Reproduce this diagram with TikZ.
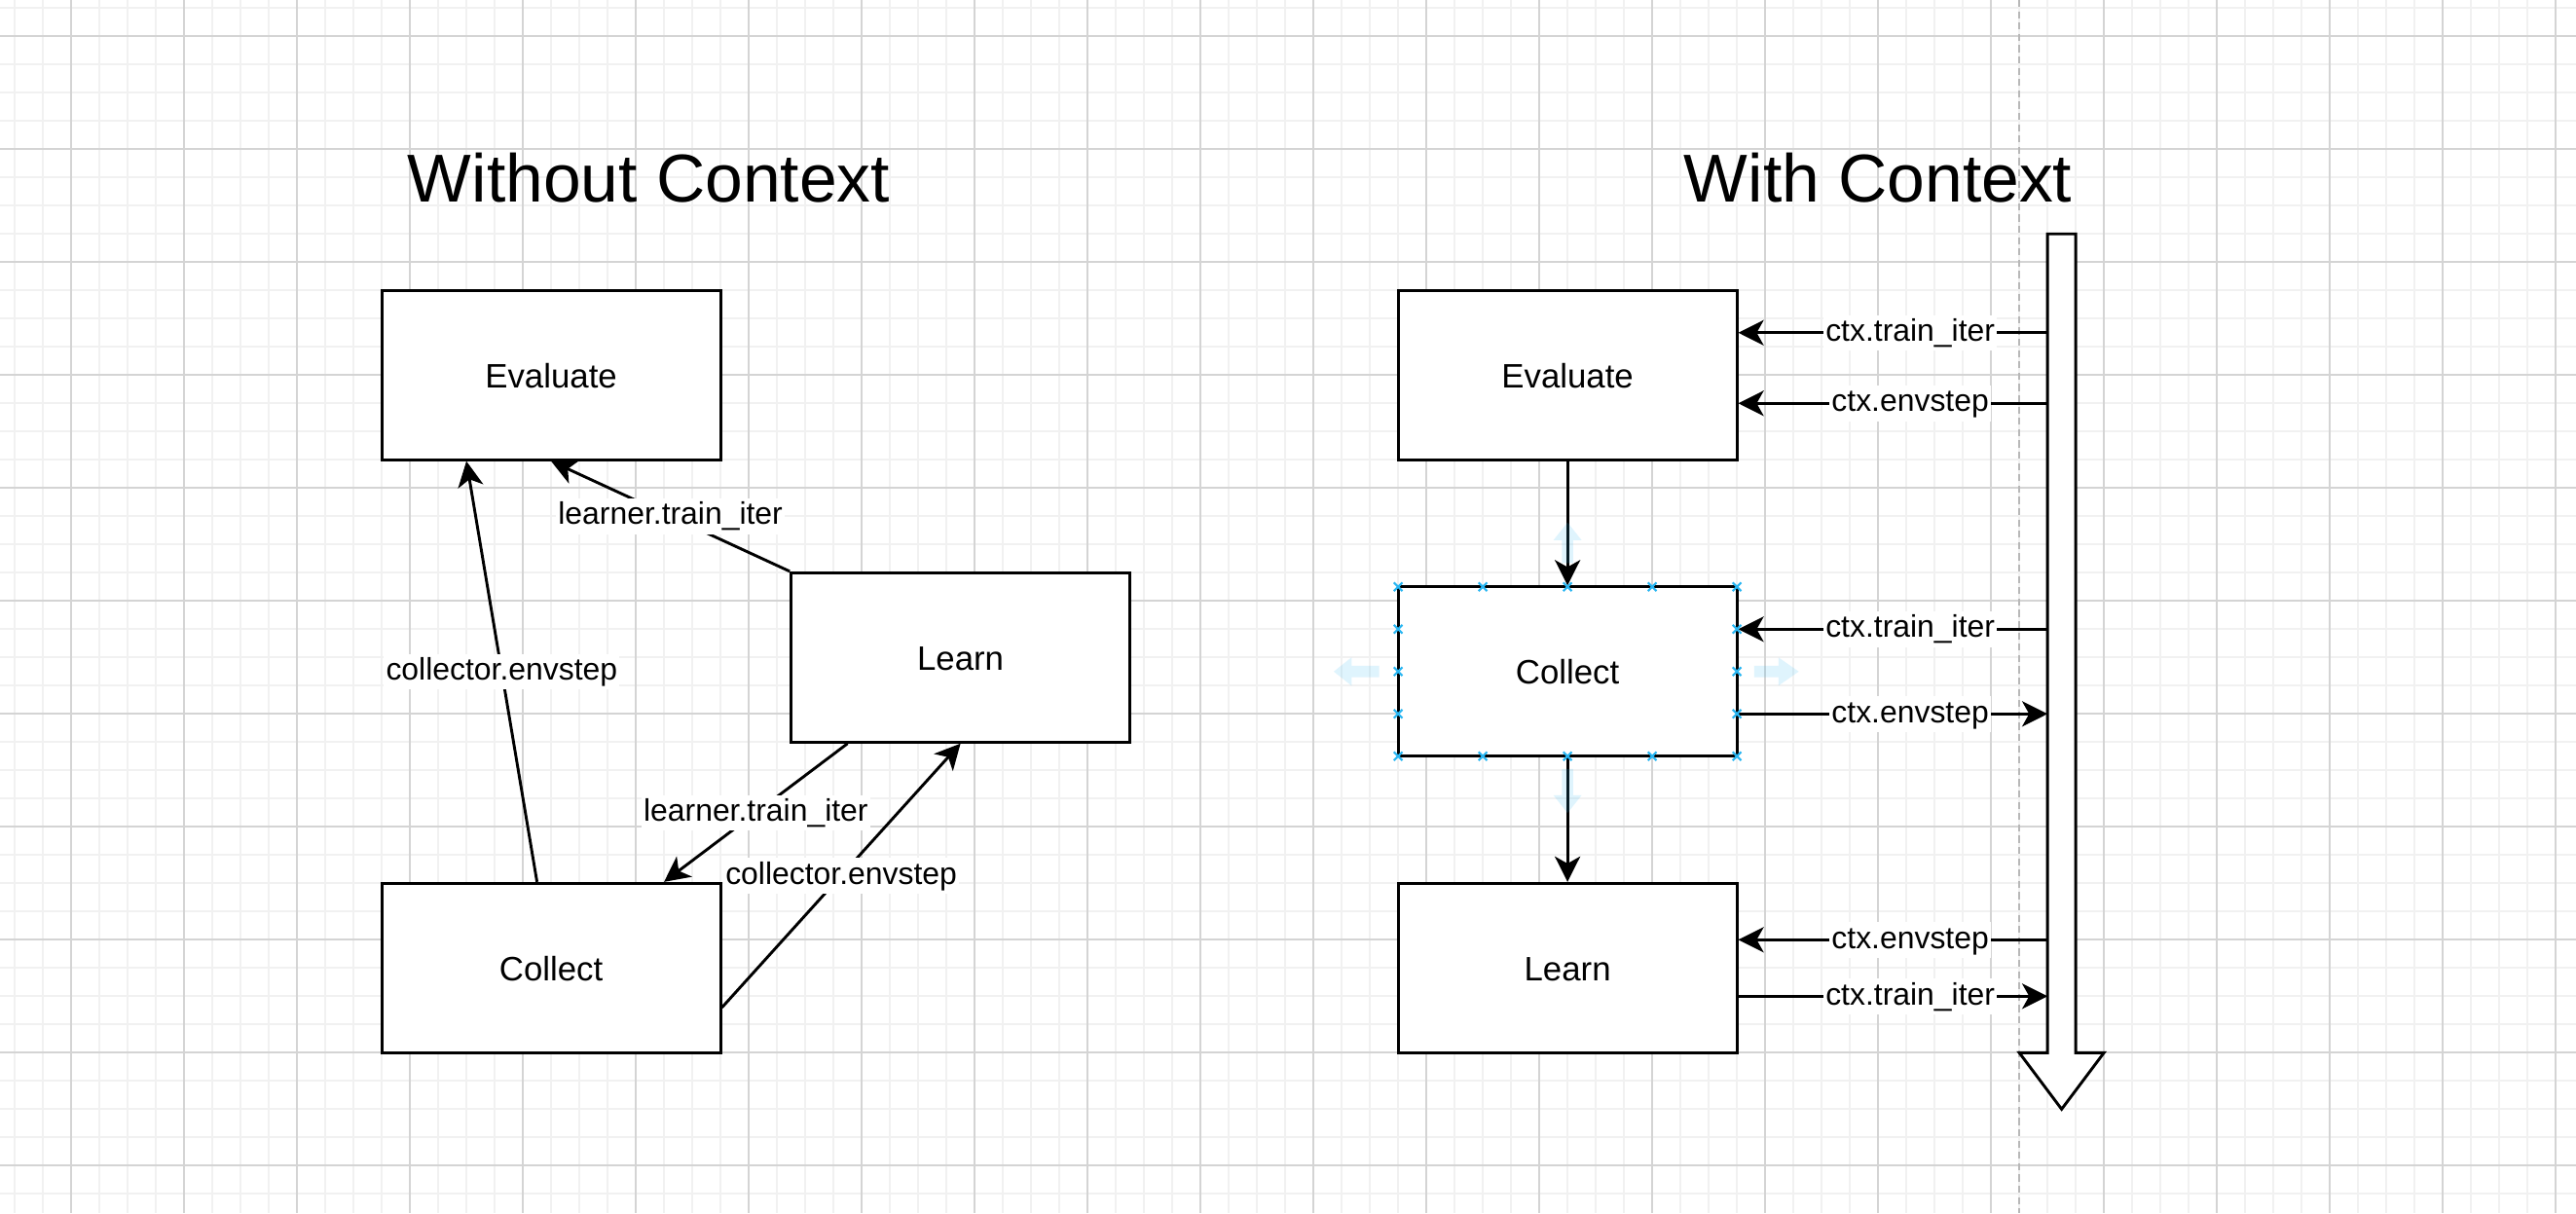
\documentclass[tikz,border=0pt]{standalone}
\usepackage{fontspec}
\setmainfont{Liberation Sans}
\usetikzlibrary{arrows.meta}
\definecolor{gridminor}{HTML}{F1F1F1}
\definecolor{gridmajor}{HTML}{D4D4D4}
\definecolor{pagebreak}{HTML}{B8B8B8}
\definecolor{hoverblue}{HTML}{29B6F2}
\begin{document}
\begin{tikzpicture}[x=1pt,y=-1pt,
  box/.style={draw,line width=1pt,fill=white,minimum width=120pt,minimum height=60pt,inner sep=0pt,
    font=\fontsize{12}{14}\selectfont,text height=9pt,text depth=0pt},
  arr/.style={line width=1pt,-{Stealth[length=9pt,width=9pt,inset=2.5pt]}},
  lbl/.style={fill=white,inner sep=0.8pt,font=\fontsize{11}{13}\selectfont,text height=8.5pt,text depth=2.5pt},
  title/.style={font=\fontsize{24}{28}\selectfont,anchor=base},
  marker/.style={draw=hoverblue,line width=0.7pt},
  hover/.style={fill=hoverblue,fill opacity=0.15},
  gminor/.style={draw=gridminor,line width=0.6pt},
  gmajor/.style={draw=gridmajor,line width=0.6pt}
]
\useasboundingbox (-5.2,-2.86) rectangle (907.2,426.8);
\fill[white] (-5.2,-2.86) rectangle (907.2,426.8);
% grid
\foreach \x in {0,10,...,900} \draw[gminor] (\x,-2.86) -- (\x,426.8);
\foreach \y in {0,10,...,420} \draw[gminor] (-5.2,\y) -- (907.2,\y);
\foreach \x in {20,60,...,900} \draw[gmajor] (\x,-2.86) -- (\x,426.8);
\foreach \y in {10,50,...,410} \draw[gmajor] (-5.2,\y) -- (907.2,\y);
% page break line
\draw[pagebreak,line width=0.6pt,dash pattern=on 2.5pt off 1.5pt] (710,-2.86) -- (710,426.8);

% titles
\node[title] (t1) at (224.6,68.6) {Without Context};
\node[title] (t2) at (660,68.6) {With Context};

% left diagram
\node[box] (lEval) at (190,130) {Evaluate};
\node[box] (lLearn) at (335,230) {Learn};
\node[box] (lColl) at (190,340) {Collect};

\draw[arr] ([xshift=-5pt]lColl.north) -- node[lbl]{collector.envstep} ([xshift=-30pt]lEval.south);
\draw[arr] (lLearn.north west) -- node[lbl]{learner.train\_iter} (lEval.south);
\draw[arr] ([xshift=-40pt]lLearn.south) -- node[lbl]{learner.train\_iter} ([xshift=40pt]lColl.north);
\draw[arr] ([yshift=-14pt]lColl.east) -- node[lbl]{collector.envstep} (lLearn.south);

% right diagram
\node[box] (rEval) at (550,130) {Evaluate};
\node[box] (rColl) at (550,235) {Collect};
\node[box] (rLearn) at (550,340) {Learn};

\draw[arr] (rEval.south) -- (rColl.north);
\draw[arr] (rColl.south) -- (rLearn.north);

% big hollow context arrow
\draw[line width=1pt,fill=white,line join=miter] (720,80) -- (730,80) -- (730,370) -- (740,370) -- (725,390) -- (710,370) -- (720,370) -- cycle;
\coordinate (shaft) at (720,80);

\coordinate (p1) at ([yshift=15pt]rEval.east);
\coordinate (p2) at ([yshift=-10pt]rEval.east);
\coordinate (p3) at ([yshift=15pt]rColl.east);
\coordinate (p4) at ([yshift=-15pt]rColl.east);
\coordinate (p5) at ([yshift=10pt]rLearn.east);
\coordinate (p6) at ([yshift=-10pt]rLearn.east);

\draw[arr] (p1 -| shaft) -- node[lbl,pos=0.444]{ctx.train\_iter} (p1);
\draw[arr] (p2 -| shaft) -- node[lbl,pos=0.444]{ctx.envstep} (p2);
\draw[arr] (p3 -| shaft) -- node[lbl,pos=0.444]{ctx.train\_iter} (p3);
\draw[arr] (p4) -- node[lbl,pos=0.556]{ctx.envstep} (p4 -| shaft);
\draw[arr] (p5 -| shaft) -- node[lbl,pos=0.444]{ctx.envstep} (p5);
\draw[arr] (p6) -- node[lbl,pos=0.556]{ctx.train\_iter} (p6 -| shaft);

% selection markers on Collect
\foreach \px/\py in {490/205,520/205,550/205,580/205,610/205,
                     490/265,520/265,550/265,580/265,610/265,
                     490/220,490/235,490/250,610/220,610/235,610/250}
  \draw[marker] (\px-1.5,\py-1.5) -- (\px+1.5,\py+1.5) (\px-1.5,\py+1.5) -- (\px+1.5,\py-1.5);

% hover arrows
\fill[hover] (550,182.2) -- (555,188.5) -- (552,188.5) -- (552,196.6) -- (548,196.6) -- (548,188.5) -- (545,188.5) -- cycle;
\fill[hover] (550,285.1) -- (555,278.8) -- (552,278.8) -- (552,269.5) -- (548,269.5) -- (548,278.8) -- (545,278.8) -- cycle;
\fill[hover] (467.2,235) -- (473.5,230) -- (473.5,233) -- (483.3,233) -- (483.3,237) -- (473.5,237) -- (473.5,240) -- cycle;
\fill[hover] (631.9,235) -- (624.7,230) -- (624.7,233) -- (616.1,233) -- (616.1,237) -- (624.7,237) -- (624.7,240) -- cycle;
\end{tikzpicture}
\end{document}
